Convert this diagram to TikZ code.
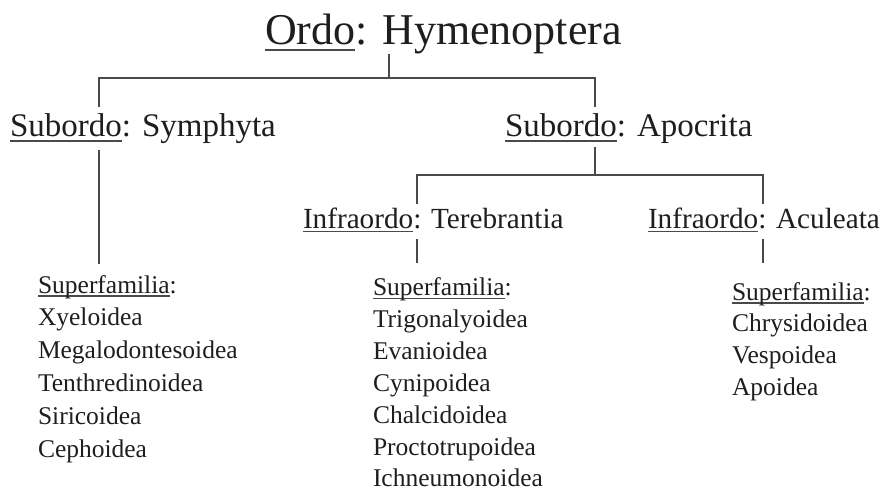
\documentclass[tikz,border=0pt]{standalone}
\usepackage{fontspec}
\setmainfont{Liberation Serif}
\definecolor{txt}{HTML}{1E1E1E}
\definecolor{ln}{HTML}{4A4A4A}
\newcommand{\myul}[1]{\setbox0\hbox{#1}\rlap{\color{ln}\rule[-0.14em]{\wd0}{0.05em}}\box0}
\tikzset{
  lbl/.style={inner sep=0pt, outer sep=0pt, anchor=base west, text=txt},
  big/.style={lbl, font=\fontsize{44}{50}\selectfont},
  mid/.style={lbl, font=\fontsize{33}{38}\selectfont},
  sml/.style={lbl, font=\fontsize{29.2}{34}\selectfont},
  item/.style={lbl, font=\fontsize{25.5}{30}\selectfont},
  conn/.style={draw=ln, line width=1.5pt}
}
\begin{document}
\begin{tikzpicture}[x=1pt,y=-1pt]
\clip (0,0) rectangle (882,494);
\fill[white] (0,0) rectangle (882,494);
% headings
\node[big] (ordo) at (265,45) {\myul{Ordo}: Hymenoptera};
\node[mid] (sym) at (10,137) {\myul{Subordo}: Symphyta};
\node[mid] (apo) at (505,137) {\myul{Subordo}: Apocrita};
\node[sml] (tere) at (303,228) {\myul{Infraordo}: Terebrantia};
\node[sml] (acu) at (648,228) {\myul{Infraordo}: Aculeata};
% lists
\node[item] (sa) at (38,293) {\myul{Superfamilia}:};
\foreach \t [count=\i] in {Xyeloidea,Megalodontesoidea,Tenthredinoidea,Siricoidea,Cephoidea}
  \node[item] (a\i) at (38,{293+32.8*\i}) {\t};
\node[item] (sb) at (373,295.5) {\myul{Superfamilia}:};
\foreach \t [count=\i] in {Trigonalyoidea,Evanioidea,Cynipoidea,Chalcidoidea,Proctotrupoidea,Ichneumonoidea}
  \node[item] (b\i) at (373,{295.5+31.9*\i}) {\t};
\node[item] (sc) at (732,300) {\myul{Superfamilia}:};
\foreach \t [count=\i] in {Chrysidoidea,Vespoidea,Apoidea}
  \node[item] (c\i) at (732,{300+31.7*\i}) {\t};
% junctions
\coordinate (j0) at (389,78);
\coordinate (j1) at (99,78);
\coordinate (j2) at (595,78);
\coordinate (j3) at (595,175);
\coordinate (j4) at (417,175);
\coordinate (j5) at (763,175);
% connectors
\draw[conn] (ordo.south -| j0) -- (j0);
\draw[conn] ([yshift=7pt]sym.north -| j1) -- (j1) -- (j2) -- ([yshift=7pt]apo.north -| j2);
\draw[conn] ([yshift=-6pt]sym.south -| j1) -- ([yshift=11pt]sa.north -| j1);
\draw[conn] ([yshift=-3pt]apo.south -| j3) -- (j3);
\draw[conn] ([yshift=3pt]tere.north -| j4) -- (j4) -- (j5) -- ([yshift=3pt]acu.north -| j5);
\draw[conn] ([yshift=-7pt]tere.south -| j4) -- ([yshift=14.5pt]sb.north -| j4);
\draw[conn] ([yshift=-7pt]acu.south -| j5) -- ([yshift=19pt]sc.north -| j5);
\end{tikzpicture}
\end{document}
